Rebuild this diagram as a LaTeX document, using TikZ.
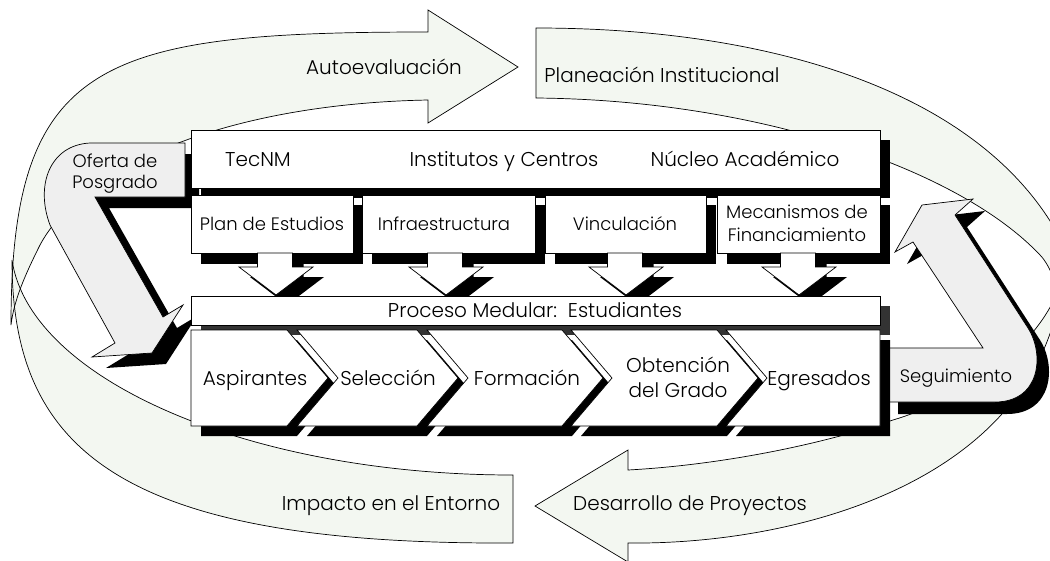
\documentclass[tikz,border=0pt]{standalone}
\usepackage{fontspec}
\setmainfont{Poppins}[UprightFont=* Light]
\definecolor{ringc}{RGB}{243,247,241}
\definecolor{arrc}{RGB}{239,239,239}
\definecolor{dshad}{RGB}{51,51,51}
\newcommand\ringImp{(513,543) .. controls (120,545) and (12,450) .. (12,260) .. controls (30,380) and (250,475) .. (513,475) -- cycle}
\newcommand\ringAuto{(11,325) .. controls (11,60) and (100,32) .. (428,32) -- (428,10) -- (518,67) -- (428,123) -- (428,100) .. controls (220,104) and (80,170) .. (40,245) .. controls (25,275) and (14,300) .. (11,325) -- cycle}
\newcommand\ringPlan{(536,28) .. controls (820,28) and (1060,120) .. (1090,330) -- (1070,330) .. controls (1060,290) and (1050,265) .. (1040,255) .. controls (960,170) and (760,100) .. (536,98) -- cycle}
\newcommand\ringDes{(628,543) .. controls (800,545) and (1040,480) .. (1062,280) .. controls (1040,350) and (960,400) .. (893,420) .. controls (820,445) and (720,465) .. (628,470) -- (628,450) -- (535,506) -- (628,562) -- cycle}
\newcommand\ofertaPath{(185,143) -- (90,143) .. controls (50,145) and (35,185) .. (50,225) -- (115,343) -- (92,357) -- (152,353) -- (183,305) -- (163,317) -- (95,197) -- (185,197) -- cycle}
\newcommand\seguiPath{(886,348) -- (983,348) -- (913,242) -- (895,252) -- (922,205) -- (973,199) -- (955,215) -- (1028,328) .. controls (1045,355) and (1040,402) .. (995,402) -- (886,402) -- cycle}
\newcommand\downArr[1]{(#1-17.5,253) -- (#1+17.5,253) -- (#1+17.5,267) -- (#1+38,267) -- (#1+1,295) -- (#1-36,267) -- (#1-17.5,267) -- cycle}
\newcommand\chevPath[4]{(#1,330) -- (#2,330) -- (#3,378) -- (#2,426) -- (#1,426) -- (#4,378) -- cycle}
\newcommand\fsbig{\fontsize{20}{24}\selectfont}
\newcommand\fsmid{\fontsize{18}{22}\selectfont}
\begin{document}
\begin{tikzpicture}[x=1pt,y=-1pt,
  ol/.style={draw=black,line width=0.7pt},
  lbl/.style={anchor=base,inner sep=0pt,font=\fsbig,text=black},
  lblm/.style={anchor=base,inner sep=0pt,font=\fsmid,text=black}]
\useasboundingbox (0,0) rectangle (1050,560);
\clip (0,0) rectangle (1050,560);
\fill[white] (0,0) rectangle (1050,560);
% background cycle
\fill[ringc] \ringImp;
\fill[ringc] \ringAuto;
\fill[ringc] \ringPlan;
\fill[ringc] \ringDes;
\draw[ol] \ringImp;
\draw[ol] \ringAuto;
\draw[ol] \ringPlan;
\draw[ol] \ringDes;
% side U-turn arrows
\fill[black,shift={(14,11)}] \ofertaPath;
\path[ol,fill=arrc] \ofertaPath;
\fill[black,shift={(12,12)}] \seguiPath;
\path[ol,fill=arrc] \seguiPath;
% shadows of the central block
\fill[black] (201,140) rectangle (890,198);
\foreach \a/\b in {191/353,362/535,545/706,717/880}
  \fill[black] (\a+10,205) rectangle (\b+10,264);
\foreach \c in {275,445,625,798}
  \fill[black,shift={(11,10)}] \downArr{\c};
\fill[dshad] (201,306) rectangle (890,335);
\fill[black,shift={(10,10)}] \chevPath{191}{287}{328}{191};
\fill[black,shift={(10,10)}] \chevPath{297}{417}{458}{338};
\fill[black,shift={(10,10)}] \chevPath{427}{562}{603}{468};
\fill[black,shift={(10,10)}] \chevPath{571}{717}{758}{612};
\fill[black,shift={(10,10)}] \chevPath{726}{880}{880}{767};
% central block
\path[ol,fill=white] (191,130) rectangle (880,188);
\foreach \a/\b in {191/353,362/535,545/706,717/880}
  \path[ol,fill=white] (\a,195) rectangle (\b,253);
\foreach \c in {275,445,625,798}
  \path[ol,fill=white] \downArr{\c};
\path[ol,fill=white] (191,296) rectangle (880,325);
\path[ol,fill=white] \chevPath{191}{287}{328}{191};
\path[ol,fill=white] \chevPath{297}{417}{458}{338};
\path[ol,fill=white] \chevPath{427}{562}{603}{468};
\path[ol,fill=white] \chevPath{571}{717}{758}{612};
\path[ol,fill=white] \chevPath{726}{880}{880}{767};
% labels
\node[lbl] (autoev) at (384,74) {Autoevaluación};
\node[lbl] (planea) at (662,82) {Planeación Institucional};
\node[lbl] (tecnm) at (258,166) {TecNM};
\node[lbl] (instit) at (504,166) {Institutos y Centros};
\node[lbl] (nucleo) at (745,166) {Núcleo Académico};
\node[lblm] (plan) at (272,230) {Plan de Estudios};
\node[lblm] (infra) at (444,230) {Infraestructura};
\node[lblm] (vinc) at (625,230) {Vinculación};
\node[lblm] (meca1) at (797,218) {Mecanismos de};
\node[lblm] (meca2) at (797,241) {Financiamiento};
\node[lblm] (ofer1) at (115,167) {Oferta de};
\node[lblm] (ofer2) at (115,188) {Posgrado};
\node[lbl] (proceso) at (535,317) {Proceso Medular:\ \ Estudiantes};
\node[lbl] (aspir) at (255,385) {Aspirantes};
\node[lbl] (selec) at (388,385) {Selección};
\node[lbl] (forma) at (527,385) {Formación};
\node[lbl] (obten1) at (678,372) {Obtención};
\node[lbl] (obten2) at (678,397) {del Grado};
\node[lbl] (egres) at (819,385) {Egresados};
\node[lblm] (segui) at (956,382) {Seguimiento};
\node[lbl] (impac) at (391,510) {Impacto en el Entorno};
\node[lbl] (desar) at (690,510) {Desarrollo de Proyectos};
\end{tikzpicture}
\end{document}
